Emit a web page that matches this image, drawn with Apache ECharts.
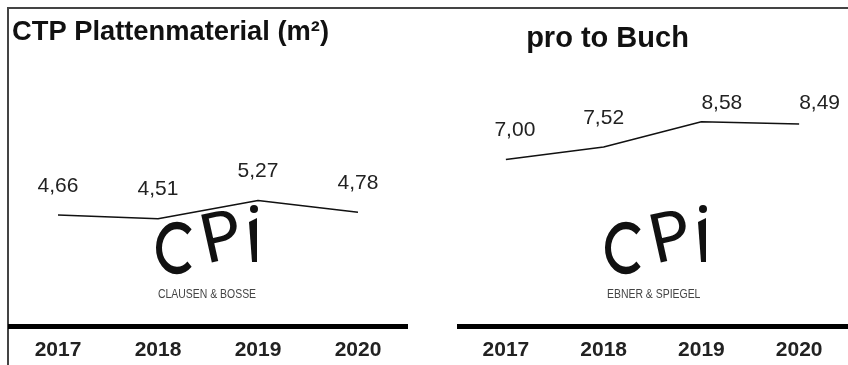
<!DOCTYPE html>
<html>
<head>
<meta charset="utf-8">
<script src="https://cdn.jsdelivr.net/npm/echarts@6/dist/echarts.min.js"></script>
<style>
html,body{margin:0;padding:0;background:#fff;}
#chart{width:848px;height:365px;}
</style>
</head>
<body>
<div id="chart"></div>
<script>
var years = ['2017', '2018', '2019', '2020'];
var leftValues = [4.66, 4.51, 5.27, 4.78];
var rightValues = [7.00, 7.52, 8.58, 8.49];
var leftTitle = 'CTP Plattenmaterial (m²)';
var rightTitle = 'pro to Buch';
var leftCompany = 'CLAUSEN & BOSSE';
var rightCompany = 'EBNER & SPIEGEL';

var chart = echarts.init(document.getElementById('chart'), null, {renderer: 'canvas'});

function fmt(p) { return Number(p.value).toFixed(2).replace('.', ','); }

function logo(dx, company) {
  return [
    {type: 'group', x: 177 + dx, y: 248, scaleY: 1.25, children: [
      {type: 'arc', shape: {cx: 0, cy: 0, r: 18, startAngle: 0.8, endAngle: Math.PI * 2 - 0.8, clockwise: true},
       style: {stroke: '#111', lineWidth: 6, fill: null}}
    ]},
    {type: 'text', x: 221 + dx, y: 238, rotation: 0.22,
     style: {text: 'P', font: 'normal 68px Lato', fill: '#111', align: 'center', verticalAlign: 'middle'}},
    {type: 'polygon', shape: {points: [[249 + dx, 222], [257 + dx, 218], [257 + dx, 262], [252 + dx, 262]]},
     style: {fill: '#111'}},
    {type: 'circle', shape: {cx: 254 + dx, cy: 209, r: 4}, style: {fill: '#111'}},
    {type: 'text', x: 158 + dx, y: 295, scaleX: 0.87,
     style: {text: company, font: 'normal 12px "Liberation Sans"', fill: '#444', align: 'left', verticalAlign: 'middle'}}
  ];
}

var gridTop = 88, gridH = 238;

var option = {
  animation: false,
  backgroundColor: '#fff',
  grid: [
    {left: 8, top: gridTop, width: 400, height: gridH},
    {left: 457, top: gridTop, width: 400, height: gridH}
  ],
  xAxis: [0, 1].map(function (i) {
    return {
      type: 'category', gridIndex: i, data: years, boundaryGap: true,
      axisLine: {show: true, lineStyle: {color: '#000', width: 5, cap: 'butt'}},
      axisTick: {show: false},
      splitLine: {show: false},
      axisLabel: {fontSize: 21, fontWeight: 'bold', color: '#222', margin: 14, fontFamily: '"Liberation Sans", Arial, sans-serif'}
    };
  }),
  yAxis: [0, 1].map(function (i) {
    return {type: 'value', gridIndex: i, min: 0, max: 10, show: false, splitLine: {show: false}};
  }),
  series: [leftValues, rightValues].map(function (vals, i) {
    return {
      type: 'line', xAxisIndex: i, yAxisIndex: i, data: vals,
      symbol: 'circle', symbolSize: 1, itemStyle: {color: 'rgba(0,0,0,0)'},
      lineStyle: {color: '#111', width: 1.5},
      label: {show: true, position: 'top', distance: 18, fontSize: 21, color: '#222',
              fontFamily: '"Liberation Sans", Arial, sans-serif', formatter: fmt},
      labelLayout: function (params) {
        var r = params.labelRect;
        var c = r.y + r.height / 2;
        var out = {};
        if (c < 103.5) { out.y = 103.5; out.verticalAlign = 'middle'; }
        if (params.seriesIndex === 1 && params.dataIndex === 0) { out.dx = 9; }
        return out;
      }
    };
  }),
  graphic: [
    {type: 'line', shape: {x1: 7, y1: 8, x2: 848, y2: 8}, style: {stroke: '#444', lineWidth: 2}},
    {type: 'line', shape: {x1: 8, y1: 7, x2: 8, y2: 365}, style: {stroke: '#444', lineWidth: 2}},
    {type: 'text', x: 12, y: 32,
     style: {text: leftTitle, font: 'bold 27.3px "Liberation Sans"', fill: '#111', align: 'left', verticalAlign: 'middle'}},
    {type: 'text', x: 607.5, y: 39,
     style: {text: rightTitle, font: 'bold 29px "Liberation Sans"', fill: '#111', align: 'center', verticalAlign: 'middle'}}
  ].concat(logo(0, leftCompany)).concat(logo(449, rightCompany))
};
chart.setOption(option);
</script>
</body>
</html>
